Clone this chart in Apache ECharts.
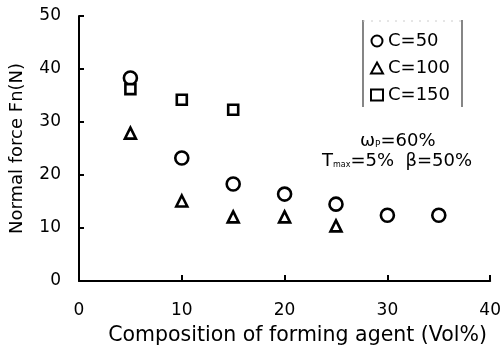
<!DOCTYPE html>
<html><head><meta charset="utf-8">
<script src="https://cdn.jsdelivr.net/npm/echarts@6/dist/echarts.min.js"></script>
<style>html,body{margin:0;padding:0;background:#fff}#c{width:504px;height:351px}</style>
</head><body><div id="c"></div>
<script>
const xTicks = [0, 10, 20, 30, 40];
const yTicks = [0, 10, 20, 30, 40, 50];
const seriesNames = ['C=50', 'C=100', 'C=150'];
const xC50 = [5, 10, 15, 20, 25, 30, 35];
const yC50 = [38.3, 23.2, 18.3, 16.4, 14.5, 12.4, 12.4];
const xC100 = [5, 10, 15, 20, 25];
const yC100 = [27.9, 15.1, 12.1, 12.1, 10.4];
const xC150 = [5, 10, 15];
const yC150 = [36.2, 34.2, 32.3];

const font = 'DejaVu Sans, Arial, sans-serif';
const zip = (a, b) => a.map((v, i) => [v, b[i]]);
const chart = echarts.init(document.getElementById('c'));
const mk = (name, data, symbol, size) => ({
  name, type: 'scatter', data, symbol, symbolSize: size,
  itemStyle: { color: '#fff', borderColor: '#000', borderWidth: 2.6, opacity: 1 }
});
chart.setOption({
  animation: false,
  backgroundColor: '#fff',
  grid: { left: 79, right: 12, top: 16, bottom: 70 },
  xAxis: {
    type: 'value', min: 0, max: 40, interval: 10,
    name: 'Composition of forming agent (Vol%)', nameLocation: 'middle', nameGap: 44,
    nameTextStyle: { color: '#000', fontSize: 20.5, fontFamily: font, padding: [0, 0, 0, 26] },
    axisLine: { lineStyle: { color: '#000', width: 2 } },
    axisTick: { inside: true, length: 6, lineStyle: { color: '#000', width: 2 } },
    axisLabel: { color: '#000', fontSize: 17, fontFamily: font, margin: 21,
      formatter: v => xTicks.includes(v) ? String(v) : '' },
    splitLine: { show: false }
  },
  yAxis: {
    type: 'value', min: 0, max: 50, interval: 10,
    name: 'Normal force Fn(N)', nameLocation: 'middle', nameGap: 53,
    nameTextStyle: { color: '#000', fontSize: 18, fontFamily: font },
    axisLine: { lineStyle: { color: '#000', width: 2 } },
    axisTick: { inside: true, length: 5, lineStyle: { color: '#000', width: 2 } },
    axisLabel: { color: '#000', fontSize: 17, fontFamily: font, margin: 18,
      formatter: v => yTicks.includes(v) ? String(v) : '' },
    splitLine: { show: false }
  },
  legend: {
    orient: 'vertical', left: 365, top: 27, itemGap: 9,
    itemWidth: 12, itemHeight: 11,
    textStyle: { color: '#000', fontSize: 18, fontFamily: font, padding: [0, 0, 0, 0] },
    data: seriesNames
  },
  graphic: [
    { type: 'line', shape: { x1: 363, y1: 20, x2: 363, y2: 107 }, style: { stroke: '#444', lineWidth: 1.3 } },
    { type: 'line', shape: { x1: 462, y1: 20, x2: 462, y2: 107 }, style: { stroke: '#444', lineWidth: 1.3 } },
    { type: 'line', shape: { x1: 363, y1: 21, x2: 462, y2: 21 }, style: { stroke: '#ccc', lineWidth: 1, lineDash: [2, 6] } },
    { type: 'text', left: 360, top: 132, style: {
      text: '{a|ω}{s|P}{a|=60%}', rich: {
        a: { fontSize: 18, fontFamily: font, fill: '#000' },
        s: { fontSize: 9, fontFamily: font, fill: '#000', padding: [7, 0, 0, 0] } } } },
    { type: 'text', left: 322, top: 152, style: {
      text: '{a|T}{s|max}{a|=5%  β=50%}', rich: {
        a: { fontSize: 18, fontFamily: font, fill: '#000' },
        s: { fontSize: 8, fontFamily: font, fill: '#000', padding: [8, 0, 0, 0] } } } }
  ],
  series: [
    mk(seriesNames[0], zip(xC50, yC50), 'circle', 13),
    mk(seriesNames[1], zip(xC100, yC100), 'triangle', 11),
    mk(seriesNames[2], zip(xC150, yC150), 'rect', 10)
  ]
});
</script></body></html>
